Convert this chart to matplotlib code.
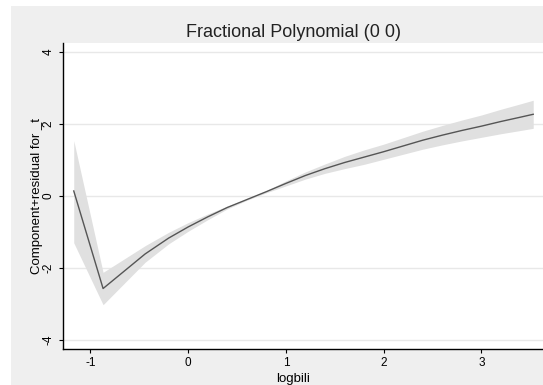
import matplotlib
matplotlib.use("Agg")
import matplotlib.pyplot as plt
from matplotlib.patches import Rectangle

# fitted component + residual curve
logbili = [-1.17, -0.87, -0.44, -0.2, 0.0, 0.2, 0.4, 0.6, 0.8, 1.0, 1.2, 1.4,
           1.6, 1.8, 2.0, 2.2, 2.4, 2.6, 2.8, 3.0, 3.2, 3.4, 3.53]
fit = [0.14, -2.57, -1.61, -1.17, -0.86, -0.58, -0.32, -0.10, 0.12, 0.35, 0.57,
       0.76, 0.93, 1.08, 1.23, 1.39, 1.55, 1.69, 1.82, 1.94, 2.07, 2.19, 2.27]
ci_lo = [-1.30, -3.02, -1.84, -1.33, -0.98, -0.66, -0.36, -0.12, 0.09, 0.28, 0.47,
         0.63, 0.76, 0.88, 1.02, 1.16, 1.30, 1.42, 1.53, 1.63, 1.73, 1.82, 1.88]
ci_hi = [1.54, -2.12, -1.38, -1.01, -0.74, -0.50, -0.28, -0.08, 0.15, 0.42, 0.67,
         0.89, 1.10, 1.28, 1.44, 1.62, 1.80, 1.96, 2.11, 2.25, 2.41, 2.56, 2.66]

x_ticks = [-1, 0, 1, 2, 3]
y_ticks = [-4, -2, 0, 2, 4]

BG = "#efefef"
BAND = "#e0e0e0"
LINE = "#555555"
GRID = "#e8e8e8"

plt.rcParams["font.family"] = ["Liberation Sans", "DejaVu Sans"]

W, H = 543, 385
fig = plt.figure(figsize=(W / 100, H / 100), dpi=100)
fig.patch.set_facecolor("white")
# stata-style grey graph region, cropped on the right/bottom
bg = Rectangle((11 / W, 0), 1 - 11 / W, 1 - 6 / H, transform=fig.transFigure,
               facecolor=BG, edgecolor="none", zorder=-10)
fig.add_artist(bg)

ax = fig.add_axes([63 / W, (H - 349) / H, (W - 63) / W, (349 - 43) / H])
ax.set_zorder(1)
ax.set_facecolor("white")

ax.fill_between(logbili, ci_lo, ci_hi, color=BAND, linewidth=0, zorder=2)
ax.plot(logbili, fit, color=LINE, linewidth=1.0, zorder=3)

ax.set_xlim(-1.28, 3.63)
ax.set_ylim(-4.25, 4.25)
ax.set_xticks(x_ticks)
ax.set_yticks(y_ticks)
ax.set_xticklabels([str(t) for t in x_ticks], fontsize=8.5)
ax.set_yticklabels([str(t) for t in y_ticks], fontsize=8.5, rotation=90,
                   va="center")
ax.tick_params(direction="out", length=3, width=0.8, color="black")
ax.tick_params(axis="y", pad=3)
ax.tick_params(axis="x", pad=3)
ax.yaxis.grid(True, color=GRID, linewidth=1.0, zorder=1)
ax.set_axisbelow(True)

for side in ("top", "right"):
    ax.spines[side].set_visible(False)
for side in ("left", "bottom"):
    ax.spines[side].set_color("black")
    ax.spines[side].set_linewidth(1.0)

ax.set_ylabel("Component+residual for _t", fontsize=9.5)
ax.yaxis.set_label_coords(-0.042, 0.5)
ax.set_xlabel("logbili", fontsize=9.5)
ax.xaxis.set_label_coords(0.479, -0.08)

fig.text(293 / W, 1 - 37 / H, "Fractional Polynomial (0 0)", fontsize=13,
         ha="center", va="baseline", color="#222222", zorder=5)

fig.savefig("out.png", dpi=100)
